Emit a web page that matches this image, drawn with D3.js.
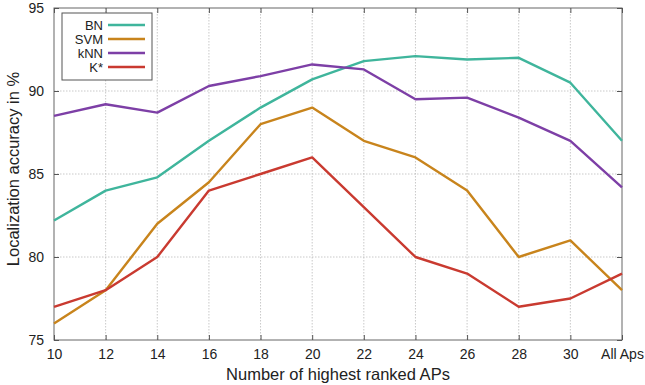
<!DOCTYPE html>
<html>
<head>
<meta charset="utf-8">
<script src="https://cdn.jsdelivr.net/npm/d3@7"></script>
<style>
  body { margin: 0; background: #fff; }
  text { font-family: "Liberation Sans", Arial, sans-serif; fill: #222; }
</style>
</head>
<body>
<div id="chart"></div>
<script>
const categories = ['10', '12', '14', '16', '18', '20', '22', '24', '26', '28', '30', 'All Aps'];
const bn  = [82.2, 84.0, 84.8, 87.0, 89.0, 90.7, 91.8, 92.1, 91.9, 92.0, 90.5, 87.0];
const svm = [76.0, 78.0, 82.0, 84.5, 88.0, 89.0, 87.0, 86.0, 84.0, 80.0, 81.0, 78.0];
const knn = [88.5, 89.2, 88.7, 90.3, 90.9, 91.6, 91.3, 89.5, 89.6, 88.4, 87.0, 84.2];
const kstar = [77.0, 78.0, 80.0, 84.0, 85.0, 86.0, 83.0, 80.0, 79.0, 77.0, 77.5, 79.0];
const yTicks = [75, 80, 85, 90, 95];

const series = [
  { name: 'BN', values: bn, color: '#3fb59c' },
  { name: 'SVM', values: svm, color: '#c8841c' },
  { name: 'kNN', values: knn, color: '#7d3fa6' },
  { name: 'K*', values: kstar, color: '#c93a30' }
];

const W = 645, H = 385;
const margin = { top: 8, right: 23, bottom: 45, left: 54 };
const width = W - margin.left - margin.right;
const height = H - margin.top - margin.bottom;

const svg = d3.select('#chart').append('svg')
  .attr('width', W).attr('height', H);
const g = svg.append('g')
  .attr('transform', `translate(${margin.left},${margin.top})`);

const x = d3.scalePoint().domain(categories).range([0, width]);
const y = d3.scaleLinear().domain([75, 95]).range([height, 0]);

// Grid
g.append('g')
  .selectAll('line').data(categories.slice(1, -1)).enter().append('line')
  .attr('x1', d => x(d)).attr('x2', d => x(d))
  .attr('y1', 0).attr('y2', height)
  .attr('stroke', '#bbb').attr('stroke-width', 0.8)
  .attr('stroke-dasharray', '1.5,1.5');
g.append('g')
  .selectAll('line').data(yTicks.slice(1, -1)).enter().append('line')
  .attr('x1', 0).attr('x2', width)
  .attr('y1', d => y(d)).attr('y2', d => y(d))
  .attr('stroke', '#bbb').attr('stroke-width', 0.8)
  .attr('stroke-dasharray', '1.5,1.5');

// Frame
g.append('rect').attr('width', width).attr('height', height)
  .attr('fill', 'none').attr('stroke', '#666').attr('stroke-width', 1);

// Axes
const xAxis = g.append('g').attr('transform', `translate(0,${height})`)
  .call(d3.axisBottom(x).tickSize(-5).tickPadding(9));
const xTop = g.append('g')
  .call(d3.axisTop(x).tickSize(-5).tickFormat(''));
const yAxis = g.append('g')
  .call(d3.axisLeft(y).tickValues(yTicks).tickSize(-5).tickPadding(10));
const yRight = g.append('g').attr('transform', `translate(${width},0)`)
  .call(d3.axisRight(y).tickValues(yTicks).tickSize(-5).tickFormat(''));
[xAxis, xTop, yAxis, yRight].forEach(a => {
  a.select('.domain').remove();
  a.selectAll('line').attr('stroke', '#555');
  a.selectAll('text').attr('font-size', 14).attr('fill', '#222')
    .style('font-family', '"Liberation Sans", Arial, sans-serif');
});

// Lines
const line = d3.line()
  .x((d, i) => x(categories[i]))
  .y(d => y(d));
series.forEach(s => {
  g.append('path').datum(s.values)
    .attr('fill', 'none').attr('stroke', s.color)
    .attr('stroke-width', 2.4)
    .attr('stroke-linejoin', 'round')
    .attr('d', line);
});

// Legend
const legend = g.append('g').attr('transform', 'translate(8,5)');
legend.append('rect').attr('width', 90).attr('height', 67)
  .attr('fill', '#fff').attr('stroke', '#555').attr('stroke-width', 1);
series.forEach((s, i) => {
  const ly = 12 + i * 14;
  legend.append('text').attr('x', 41).attr('y', ly).attr('dy', '0.35em')
    .attr('text-anchor', 'end').attr('font-size', 13).text(s.name);
  legend.append('line').attr('x1', 46).attr('x2', 83)
    .attr('y1', ly).attr('y2', ly)
    .attr('stroke', s.color).attr('stroke-width', 2.4);
});

// Axis labels
svg.append('text')
  .attr('x', margin.left + width / 2).attr('y', H - 5)
  .attr('text-anchor', 'middle').attr('font-size', 16.5)
  .text('Number of highest ranked APs');
svg.append('text')
  .attr('transform', `translate(19,${margin.top + height / 2 - 5}) rotate(-90)`)
  .attr('text-anchor', 'middle').attr('font-size', 16.5)
  .text('Localization accuracy in %');
</script>
</body>
</html>
